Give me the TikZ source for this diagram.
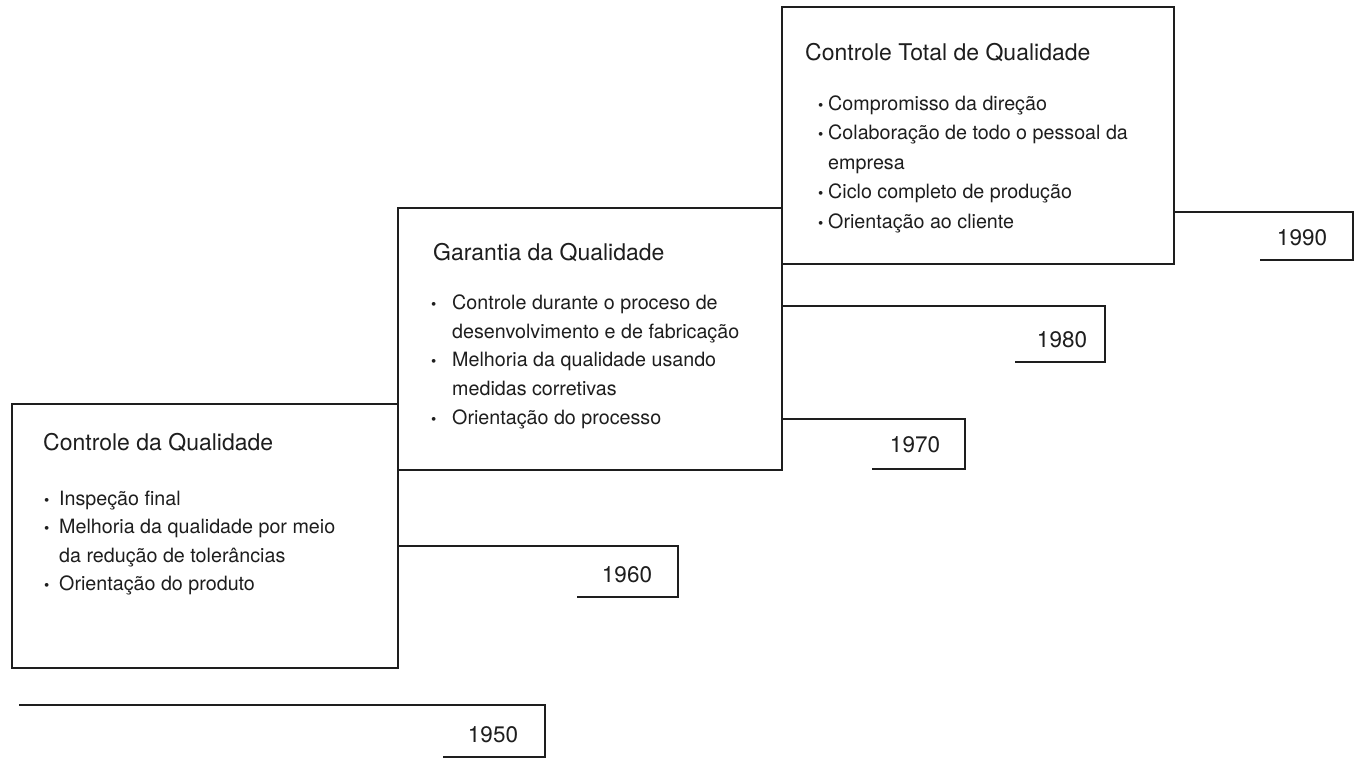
\documentclass[tikz,border=0pt]{standalone}
\usepackage{fontspec}
\setmainfont{TeX Gyre Heros}
\definecolor{ink}{HTML}{1E1E1E}
\newcommand\blt[1]{\makebox[#1][l]{\fontsize{15}{15}\selectfont •}}
\begin{document}
\begin{tikzpicture}[x=1pt,y=-1pt,
  ln/.style={line width=1.7pt, draw=ink, line join=miter},
  box/.style={draw=ink, line width=1.7pt, anchor=north west, inner sep=0pt},
  ttl/.style={anchor=base west, inner sep=0pt, text=ink, font=\fontsize{23}{28}\selectfont},
  itm/.style={anchor=base west, inner sep=0pt, text=ink, font=\fontsize{19.7}{24}\selectfont},
  yr/.style={inner sep=0pt, text=ink, font=\fontsize{22.5}{27}\selectfont}]
\useasboundingbox (0,0) rectangle (1357,758);
\fill[white] (0,0) rectangle (1357,758);

% boxes
\node[box, minimum width=386pt, minimum height=264pt] (b1) at (11,403) {};
\node[box, minimum width=384pt, minimum height=262pt] (b2) at (397,207) {};
\node[box, minimum width=392pt, minimum height=257pt] (b3) at (781,6) {};

% box 1 text
\node[ttl] (t1) at (43,450) {Controle da Qualidade};
\node[itm] (t1a) at (44,505) {\blt{15pt}Inspeção final};
\node[itm] (t1b) at (44,533) {\blt{15pt}Melhoria da qualidade por meio};
\node[itm] (t1c) at (59,562) {da redução de tolerâncias};
\node[itm] (t1d) at (44,590) {\blt{15pt}Orientação do produto};

% box 2 text
\node[ttl] (t2) at (433,260) {Garantia da Qualidade};
\node[itm] (t2a) at (431,309) {\blt{21pt}Controle durante o proceso de};
\node[itm] (t2b) at (452,338) {desenvolvimento e de fabricação};
\node[itm] (t2c) at (431,366) {\blt{21pt}Melhoria da qualidade usando};
\node[itm] (t2d) at (452,395) {medidas corretivas};
\node[itm] (t2e) at (431,424) {\blt{21pt}Orientação do processo};

% box 3 text
\node[ttl] (t3) at (805,60) {Controle Total de Qualidade};
\node[itm] (t3a) at (818,110) {\blt{10pt}Compromisso da direção};
\node[itm] (t3b) at (818,139) {\blt{10pt}Colaboração de todo o pessoal da};
\node[itm] (t3c) at (828,169) {empresa};
\node[itm] (t3d) at (818,198) {\blt{10pt}Ciclo completo de produção};
\node[itm] (t3e) at (818,228) {\blt{10pt}Orientação ao cliente};

% year brackets
\coordinate (s50) at (19,705);   \coordinate (k50) at (545,757);  \coordinate (e50) at (443,757);
\coordinate (s60) at (397,546);  \coordinate (k60) at (678,597);  \coordinate (e60) at (577,597);
\coordinate (s70) at (781,419);  \coordinate (k70) at (965,469);  \coordinate (e70) at (872,469);
\coordinate (s80) at (781,306);  \coordinate (k80) at (1105,362); \coordinate (e80) at (1015,362);
\coordinate (s90) at (1173,212); \coordinate (k90) at (1353,260); \coordinate (e90) at (1260,260);
\draw[ln] (s50) -| (k50) -- (e50);
\draw[ln] (s60) -| (k60) -- (e60);
\draw[ln] (s70) -| (k70) -- (e70);
\draw[ln] (s80) -| (k80) -- (e80);
\draw[ln] (s90) -| (k90) -- (e90);

\node[yr] (y50) at (493,735) {1950};
\node[yr] (y60) at (627,575) {1960};
\node[yr] (y70) at (915,445) {1970};
\node[yr] (y80) at (1062,340) {1980};
\node[yr] (y90) at (1302,238) {1990};
\end{tikzpicture}
\end{document}
